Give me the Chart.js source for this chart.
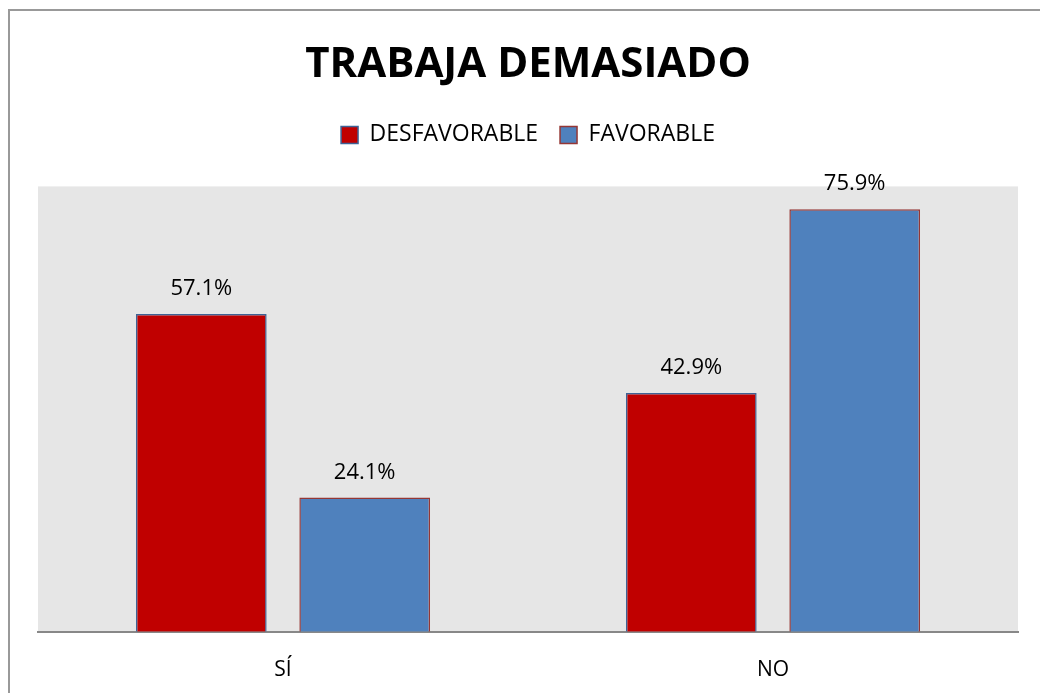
<!DOCTYPE html>
<html>
<head>
<meta charset="utf-8">
<script src="https://cdn.jsdelivr.net/npm/chart.js@4"></script>
<style>
    body { margin: 0; background: #fff; overflow: hidden; }
    #frame {
        position: absolute; left: 8px; top: 9px; width: 1100px; height: 760px;
        border-left: 2px solid #999; border-top: 2px solid #999;
    }
    #wrap { position: absolute; left: 0; top: 0; width: 1040px; height: 693px; overflow: hidden; }
</style>
</head>
<body>
<div id="frame"></div>
<div id="wrap"><canvas id="trabajaChart" width="1040" height="701"></canvas></div>
<script>
// Data
const categories = ['SÍ', 'NO'];
const desfavorable = [57.1, 42.9];
const favorable = [24.1, 75.9];

// Gray plot background
const plotBackground = {
    id: 'plotBackground',
    beforeDraw(chart) {
        const { ctx, chartArea } = chart;
        ctx.save();
        ctx.fillStyle = '#e6e6e6';
        ctx.fillRect(chartArea.left, chartArea.top, chartArea.width, chartArea.height);
        ctx.restore();
    }
};

// Extra room under the legend
const legendGap = {
    id: 'legendGap',
    beforeInit(chart) {
        const fit = chart.legend.fit;
        chart.legend.fit = function() {
            fit.bind(chart.legend)();
            this.height += 30;
        };
    }
};

// Percent labels above bars
const barLabels = {
    id: 'barLabels',
    afterDatasetsDraw(chart) {
        const ctx = chart.ctx;
        ctx.save();
        ctx.font = '22px "Open Sans", sans-serif';
        ctx.fillStyle = '#000';
        ctx.textAlign = 'center';
        ctx.textBaseline = 'middle';
        chart.data.datasets.forEach((ds, i) => {
            chart.getDatasetMeta(i).data.forEach((bar, j) => {
                ctx.fillText(ds.data[j].toFixed(1) + '%', bar.x, bar.y - 25);
            });
        });
        ctx.restore();
    }
};

const ctx = document.getElementById('trabajaChart').getContext('2d');
const trabajaChart = new Chart(ctx, {
    type: 'bar',
    data: {
        labels: categories,
        datasets: [
            {
                label: 'DESFAVORABLE',
                data: desfavorable,
                backgroundColor: '#c00000',
                borderColor: '#3e6396',
                borderWidth: 1.5
            },
            {
                label: 'FAVORABLE',
                data: favorable,
                backgroundColor: '#4f81bd',
                borderColor: '#953735',
                borderWidth: 1.5
            }
        ]
    },
    options: {
        responsive: false,
        animation: false,
        categoryPercentage: 0.667,
        barPercentage: 0.8,
        layout: {
            padding: { left: 38, right: 22, top: 18, bottom: 0 }
        },
        plugins: {
            title: {
                display: true,
                text: 'TRABAJA DEMASIADO',
                color: '#000',
                font: { family: '"Open Sans", sans-serif', size: 42, weight: 'bold' },
                padding: { top: 22, bottom: 11 }
            },
            legend: {
                display: true,
                labels: {
                    color: '#000',
                    font: { family: '"Open Sans", sans-serif', size: 23 },
                    boxWidth: 17,
                    boxHeight: 17,
                    padding: 22
                }
            },
            tooltip: { enabled: false }
        },
        scales: {
            y: {
                display: false,
                min: 0,
                max: 80
            },
            x: {
                grid: { display: false },
                border: { display: true, color: '#888', width: 2 },
                ticks: {
                    color: '#000',
                    font: { family: '"Open Sans", sans-serif', size: 21 },
                    padding: 18
                }
            }
        }
    },
    plugins: [plotBackground, legendGap, barLabels]
});
</script>
</body>
</html>
